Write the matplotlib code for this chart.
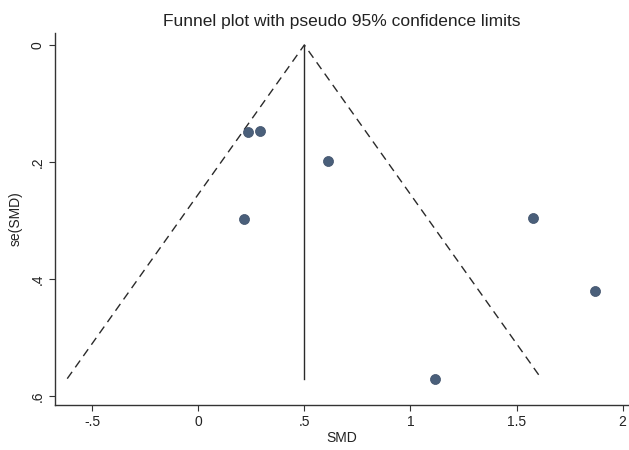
import matplotlib
matplotlib.use('Agg')
from matplotlib import pyplot as plt
import numpy as np

plt.rcParams['font.family'] = ['Liberation Sans', 'DejaVu Sans']

# study effects and standard errors
smd = [0.236, 0.292, 0.218, 0.61, 1.576, 1.87, 1.118]
se = [0.149, 0.147, 0.298, 0.198, 0.296, 0.42, 0.57]
pooled = 0.5
xticks = [-0.5, 0, 0.5, 1, 1.5, 2]
xticklabels = ['-.5', '0', '.5', '1', '1.5', '2']
yticks = [0, 0.2, 0.4, 0.6]
yticklabels = ['0', '.2', '.4', '.6']

fig = plt.figure(figsize=(6.29, 4.5), dpi=100)
ax = fig.add_axes([0.0874, 0.1, 0.9106, 0.8267])

semax = max(se)
# pseudo 95% limits
ax.plot([pooled - 1.96 * semax, pooled, pooled + 1.96 * semax], [semax, 0, semax],
        color='#2a2a2a', lw=1.0, ls=(0, (6, 4)))
ax.plot([pooled, pooled], [0, semax], color='#2a2a2a', lw=1.0)

ax.scatter(smd, se, s=52, color='#4a5f7a', edgecolors='#3e5069', linewidths=0.5, zorder=3)

ax.set_xlim(-0.675, 2.024)
ax.set_ylim(0.615, -0.0205)
ax.set_xticks(xticks)
ax.set_xticklabels(xticklabels)
ax.set_yticks(yticks)
ax.set_yticklabels(yticklabels, rotation=90, va='center')

for side in ['top', 'right']:
    ax.spines[side].set_visible(False)
for side in ['left', 'bottom']:
    ax.spines[side].set_color('#333333')
    ax.spines[side].set_linewidth(1.0)
ax.tick_params(colors='#333333', labelsize=10, length=4, width=0.8)
ax.tick_params(axis='x', labelcolor='#222222')
ax.tick_params(axis='y', labelcolor='#222222')

ax.set_xlabel('SMD', fontsize=10, color='#222222', labelpad=1)
ax.set_ylabel('se(SMD)', fontsize=10, color='#222222', labelpad=6)
ax.set_title('Funnel plot with pseudo 95% confidence limits', fontsize=12.5, color='#222222', pad=5)

fig.savefig('out.png', dpi=100)
